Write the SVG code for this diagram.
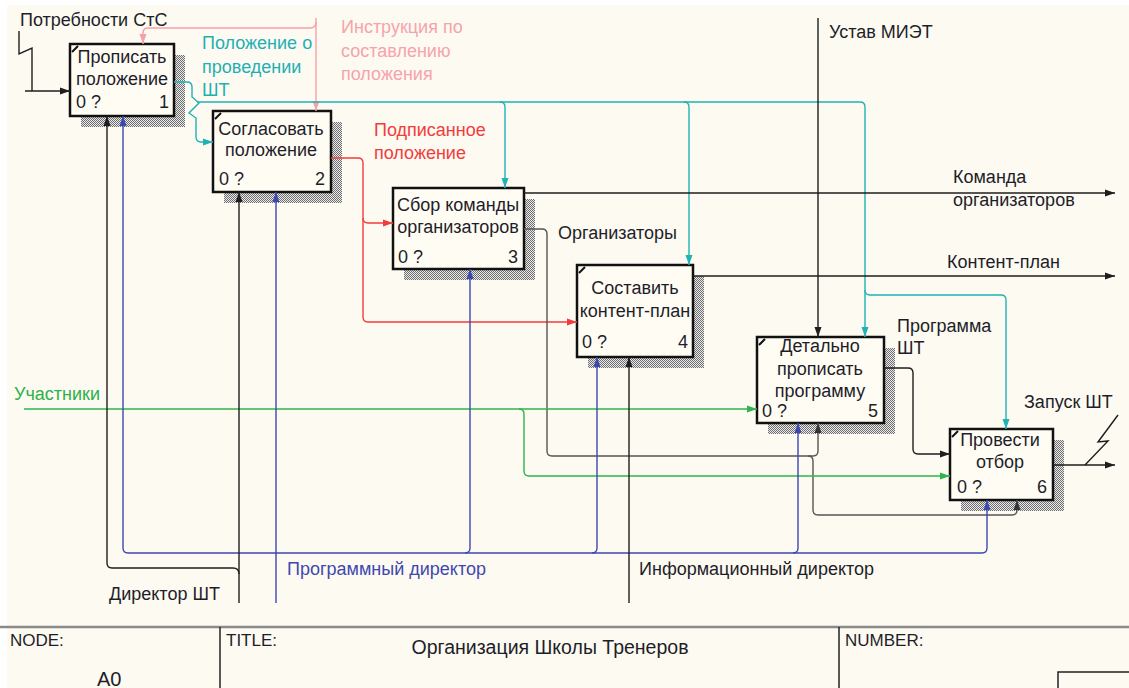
<svg xmlns="http://www.w3.org/2000/svg" width="1129" height="688" viewBox="0 0 1129 688">
<style>
text{font-family:"Liberation Sans",Arial,sans-serif;font-size:18px;fill:#1e1e2a}
.c{text-anchor:middle}
.e{text-anchor:end}
.box{fill:#fffcf4;stroke:#111;stroke-width:2.5}
.sh{fill:url(#hatch)}
.tick{stroke:#111;stroke-width:2}
.ln{fill:none;stroke-width:1.4}
.k{stroke:#1e1e1e}
.g{stroke:#555}
.pk{stroke:#f5a0a9}
.tl{stroke:#1fb3b6}
.rd{stroke:#f23c3c}
.gr{stroke:#2fb54c}
.bl{stroke:#3c47b2}
text.tpk{fill:#f6a3ac}
text.ttl{fill:#1fb0b3}
text.trd{fill:#f23c3c}
text.tgr{fill:#2eb04a}
text.tbl{fill:#3e48b0}
.tb{font-size:17px}
</style>
<defs>
<pattern id="hatch" width="2" height="2" patternUnits="userSpaceOnUse">
<rect width="2" height="2" fill="#ebebeb"/>
<rect width="1" height="1" fill="#6e6e6e"/>
<rect x="1" y="1" width="1" height="1" fill="#6e6e6e"/>
</pattern>
<marker id="ak" markerUnits="userSpaceOnUse" markerWidth="10" markerHeight="8" refX="10" refY="4" orient="auto"><path d="M0,0.5 L10,4 L0,7.5 z" fill="#1e1e1e"/></marker>
<marker id="ag" markerUnits="userSpaceOnUse" markerWidth="10" markerHeight="8" refX="10" refY="4" orient="auto"><path d="M0,0.5 L10,4 L0,7.5 z" fill="#333"/></marker>
<marker id="apk" markerUnits="userSpaceOnUse" markerWidth="10" markerHeight="8" refX="10" refY="4" orient="auto"><path d="M0,0.5 L10,4 L0,7.5 z" fill="#f5a0a9"/></marker>
<marker id="atl" markerUnits="userSpaceOnUse" markerWidth="10" markerHeight="8" refX="10" refY="4" orient="auto"><path d="M0,0.5 L10,4 L0,7.5 z" fill="#1fb3b6"/></marker>
<marker id="ard" markerUnits="userSpaceOnUse" markerWidth="10" markerHeight="8" refX="10" refY="4" orient="auto"><path d="M0,0.5 L10,4 L0,7.5 z" fill="#f23c3c"/></marker>
<marker id="agr" markerUnits="userSpaceOnUse" markerWidth="10" markerHeight="8" refX="10" refY="4" orient="auto"><path d="M0,0.5 L10,4 L0,7.5 z" fill="#2fb54c"/></marker>
<marker id="abl" markerUnits="userSpaceOnUse" markerWidth="10" markerHeight="8" refX="10" refY="4" orient="auto"><path d="M0,0.5 L10,4 L0,7.5 z" fill="#3c47b2"/></marker>
</defs>

<rect x="0" y="0" width="1129" height="688" fill="#ffffff"/>
<rect x="7" y="5" width="1122" height="683" fill="#fdfaf1"/>

<g id="node1">
<rect class="sh" x="81" y="55" width="104" height="72"/>
<rect class="box" x="70" y="44" width="104" height="72"/>
<line class="tick" x1="72" y1="52" x2="78" y2="46"/>
<text class="c" x="122" y="63">Прописать</text>
<text class="c" x="122" y="85">положение</text>
<text x="76" y="108">0 ?</text>
<text class="e" x="169" y="108">1</text>
</g>

<g id="node2">
<rect class="sh" x="224" y="122" width="118" height="81"/>
<rect class="box" x="213" y="111" width="118" height="81"/>
<line class="tick" x1="215" y1="119" x2="221" y2="113"/>
<text class="c" x="271" y="135">Согласовать</text>
<text class="c" x="271" y="156">положение</text>
<text x="219" y="185">0 ?</text>
<text class="e" x="325" y="185">2</text>
</g>

<g id="node3">
<rect class="sh" x="404" y="199" width="131" height="81"/>
<rect class="box" x="393" y="188" width="131" height="81"/>
<text class="c" x="458" y="211">Сбор команды</text>
<text class="c" x="458" y="233">организаторов</text>
<text x="398" y="263">0 ?</text>
<text class="e" x="518" y="263">3</text>
</g>

<g id="node4">
<rect class="sh" x="588" y="276" width="116" height="92"/>
<rect class="box" x="577" y="265" width="116" height="92"/>
<line class="tick" x1="579" y1="273" x2="585" y2="267"/>
<text class="c" x="635" y="294">Составить</text>
<text class="c" x="635" y="317">контент-план</text>
<text x="582" y="348">0 ?</text>
<text class="e" x="688" y="348">4</text>
</g>

<g id="node5">
<rect class="sh" x="768" y="348" width="127" height="86"/>
<rect class="box" x="757" y="337" width="127" height="86"/>
<line class="tick" x1="759" y1="345" x2="765" y2="339"/>
<text class="c" x="820" y="352">Детально</text>
<text class="c" x="820" y="375">прописать</text>
<text class="c" x="820" y="397">программу</text>
<text x="762" y="417">0 ?</text>
<text class="e" x="878" y="417">5</text>
</g>

<g id="node6">
<rect class="sh" x="961" y="440" width="103" height="71"/>
<rect class="box" x="950" y="429" width="103" height="71"/>
<line class="tick" x1="952" y1="437" x2="958" y2="431"/>
<text class="c" x="1000" y="446">Провести</text>
<text class="c" x="1000" y="468">отбор</text>
<text x="957" y="493">0 ?</text>
<text class="e" x="1047" y="493">6</text>
</g>

<g id="connectors">
<path class="ln k" d="M19,31 V54 L32,48 V91"/>
<path class="ln k" d="M25,91 H70" marker-end="url(#ak)"/>
<path class="ln pk" d="M316,18 V111" marker-end="url(#apk)"/>
<path class="ln pk" d="M316,22 q0,6 -6,6 H148 q-5,0 -5,5 V44" marker-end="url(#apk)"/>
<path class="ln tl" d="M174,82 H187 q5,0 5,5 V97 L199,103 L189,113 L196,118 V137 q0,5 5,5 H213" marker-end="url(#atl)"/>
<path class="ln tl" d="M197,102 H860 q5,0 5,5 V337" marker-end="url(#atl)"/>
<path class="ln tl" d="M500,102 q5,0 5,5 V188" marker-end="url(#atl)"/>
<path class="ln tl" d="M684,102 q5,0 5,5 V265" marker-end="url(#atl)"/>
<path class="ln tl" d="M865,290 q0,5 5,5 H1001 q5,0 5,5 V429" marker-end="url(#atl)"/>
<path class="ln rd" d="M331,158 H358 q5,0 5,5 V317 q0,5 5,5 H577" marker-end="url(#ard)"/>
<path class="ln rd" d="M363,218 q0,5 5,5 H393" marker-end="url(#ard)"/>
<path class="ln k" d="M524,193 H1115" marker-end="url(#ak)"/>
<path class="ln g" d="M524,229 H542 q5,0 5,5 V451 q0,5 5,5 H813 q5,0 5,-5 V423" marker-end="url(#ag)"/>
<path class="ln g" d="M808,456 q5,0 5,5 V510 q0,5 5,5 H1012 q5,0 5,-5 V500" marker-end="url(#ag)"/>
<path class="ln k" d="M693,276 H1115" marker-end="url(#ak)"/>
<path class="ln k" d="M818,18 V337" marker-end="url(#ak)"/>
<path class="ln k" d="M884,368 H908 q5,0 5,5 V449 q0,5 5,5 H950" marker-end="url(#ak)"/>
<path class="ln k" d="M1053,465 H1115" marker-end="url(#ak)"/>
<path class="ln k" d="M1085,465 L1108,441 L1098,442 L1118,415"/>
<path class="ln gr" d="M24,409 H757" marker-end="url(#agr)"/>
<path class="ln gr" d="M519,409 q5,0 5,5 V471 q0,5 5,5 H950" marker-end="url(#agr)"/>
<path class="ln bl" d="M276,603 V192" marker-end="url(#abl)"/>
<path class="ln bl" d="M276,553 H128 q-5,0 -5,-5 V116" marker-end="url(#abl)"/>
<path class="ln bl" d="M276,553 H465 q5,0 5,-5 V269" marker-end="url(#abl)"/>
<path class="ln bl" d="M465,553 H592 q5,0 5,-5 V357" marker-end="url(#abl)"/>
<path class="ln bl" d="M592,553 H793 q5,0 5,-5 V423" marker-end="url(#abl)"/>
<path class="ln bl" d="M793,553 H982 q5,0 5,-5 V500" marker-end="url(#abl)"/>
<path class="ln k" d="M239,603 V192" marker-end="url(#ak)"/>
<path class="ln k" d="M239,574 q0,-6 -6,-6 H112 q-5,0 -5,-5 V116" marker-end="url(#ak)"/>
<path class="ln k" d="M629,603 V357" marker-end="url(#ak)"/>

<text x="20" y="26">Потребности СтС</text>
<text class="tpk" x="341" y="33">Инструкция по</text>
<text class="tpk" x="341" y="57">составлению</text>
<text class="tpk" x="341" y="80">положения</text>
<text class="ttl" x="202" y="49">Положение о</text>
<text class="ttl" x="202" y="73">проведении</text>
<text class="ttl" x="202" y="96">ШТ</text>
<text class="trd" x="374" y="136">Подписанное</text>
<text class="trd" x="374" y="159">положение</text>
<text x="829" y="38">Устав МИЭТ</text>
<text x="953" y="183">Команда</text>
<text x="953" y="206">организаторов</text>
<text x="558" y="239">Организаторы</text>
<text x="947" y="268">Контент-план</text>
<text x="897" y="332">Программа</text>
<text x="897" y="354">ШТ</text>
<text x="1024" y="408">Запуск ШТ</text>
<text class="tgr" x="14" y="400">Участники</text>
<text x="109" y="600">Директор ШТ</text>
<text class="tbl" x="287" y="575">Программный директор</text>
<text x="639" y="575">Информационный директор</text>
</g>

<g id="titleblock">
<line x1="0" y1="627" x2="1129" y2="627" stroke="#8a8a8a" stroke-width="2.5"/>
<line x1="220" y1="627" x2="220" y2="688" stroke="#222" stroke-width="1.5"/>
<line x1="839" y1="627" x2="839" y2="688" stroke="#222" stroke-width="1.5"/>
<rect x="1058" y="672" width="80" height="30" fill="none" stroke="#222" stroke-width="1.5"/>
<text class="tb" x="10" y="646">NODE:</text>
<text x="97" y="686" style="font-size:20px">A0</text>
<text class="tb" x="226" y="646">TITLE:</text>
<text class="c" x="550" y="654" style="font-size:19.5px">Организация Школы Тренеров</text>
<text class="tb" x="845" y="646">NUMBER:</text>
</g>
</svg>
